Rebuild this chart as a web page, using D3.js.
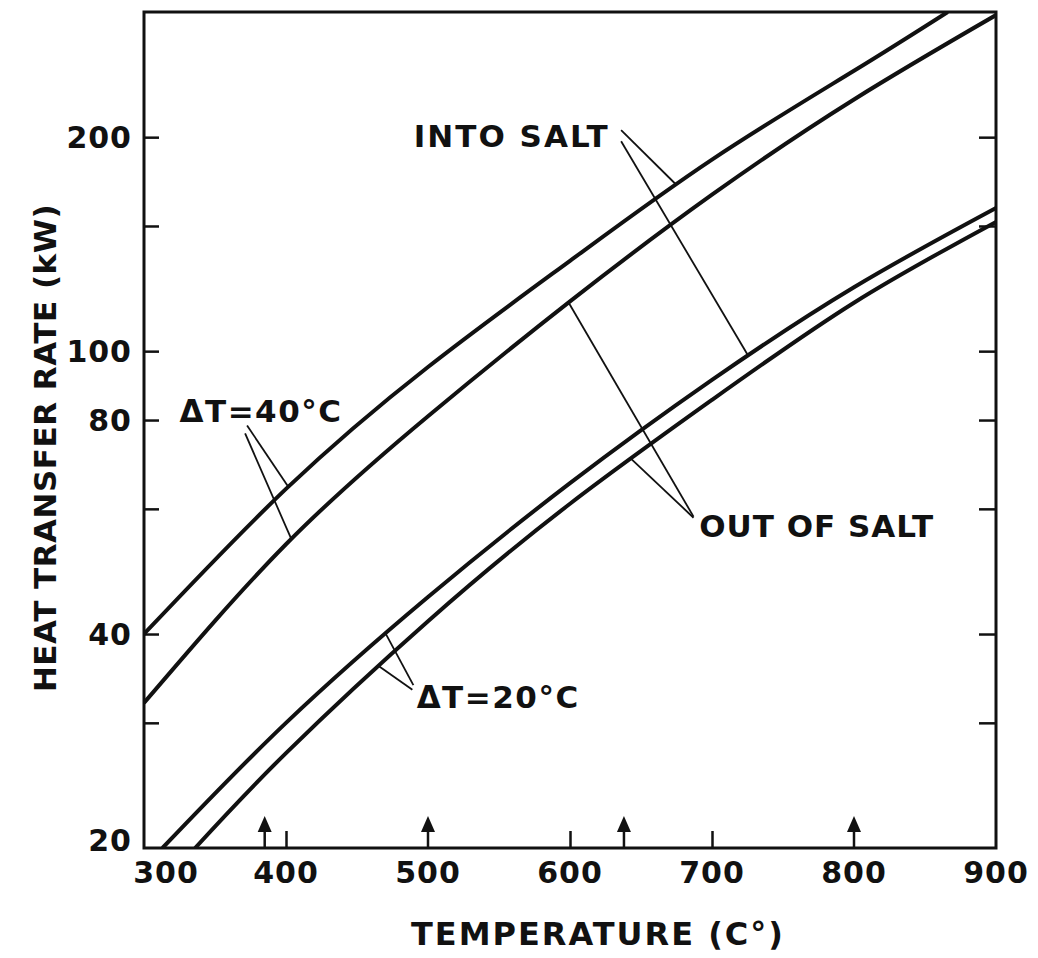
<!DOCTYPE html>
<html>
<head>
<meta charset="utf-8">
<script src="https://cdn.jsdelivr.net/npm/d3@7"></script>
<style>
  body { margin: 0; background: #fff; }
  text { font-family: "DejaVu Sans", sans-serif; font-weight: bold; fill: #111; }
</style>
</head>
<body>
<div id="chart"></div>
<script>
// Heat transfer rate: [temperature (C), rate (kW)]
var into40 = [[300, 40], [400, 64], [500, 95], [600, 134], [700, 186], [800, 248], [866, 300]];
var outOf40 = [[300, 32], [400, 53.5], [500, 81], [600, 117.5], [700, 166], [800, 226], [900, 297]];
var into20 = [[313, 20], [400, 30], [500, 45.1], [600, 65.2], [700, 91.1], [800, 123], [900, 159]];
var outOf20 = [[336, 20], [400, 27.2], [500, 41.7], [600, 61], [700, 85.4], [800, 117], [900, 152]];

var xTicks = [300, 400, 500, 600, 700, 800, 900];
var xMinorTicks = [400, 600, 700];
var yLabels = [20, 40, 80, 100, 200];
var yMinorTicks = [30, 40, 60, 80, 100, 150, 200];
var arrowTemps = [385, 500, 638, 800];

// Labels and their leader lines, in data units
var labels = [
  {text: "INTO SALT", t: 490, kw: 194, spacing: 2},
  {text: "ΔT=40°C", t: 325, kw: 79.5, spacing: 1.5},
  {text: "ΔT=20°C", t: 492, kw: 31.5, spacing: 1.5},
  {text: "OUT OF SALT", t: 691, kw: 54.8, spacing: 1}
];
var leaders = [
  {from: [636, 204.6], curve: "into40", t: 674.5},
  {from: [636, 197.4], curve: "into20", t: 725.3},
  {from: [372.6, 78.6], curve: "into40", t: 401.6},
  {from: [371.2, 76.6], curve: "outOf40", t: 403.7},
  {from: [489.7, 33.9], curve: "into20", t: 470},
  {from: [489, 33.4], curve: "outOf20", t: 465},
  {from: [687, 58.5], curve: "outOf40", t: 599},
  {from: [687, 58.3], curve: "outOf20", t: 642.7}
];

var svgWidth = 1038;
var svgHeight = 958;
var margin = {top: 12, right: 42, bottom: 110, left: 144};
var width = svgWidth - margin.left - margin.right;
var height = svgHeight - margin.top - margin.bottom;

var svg = d3.select("#chart")
  .append("svg")
  .attr("width", svgWidth)
  .attr("height", svgHeight);

var chartGroup = svg.append("g")
  .attr("transform", `translate(${margin.left}, ${margin.top})`);

// Scales
var xScale = d3.scaleLinear()
  .domain([300, 900])
  .range([0, width]);

var yScale = d3.scaleLog()
  .domain([20, 300])
  .range([height, 0]);

// Clip the curves to the frame
chartGroup.append("clipPath")
  .attr("id", "plot-clip")
  .append("rect")
  .attr("width", width)
  .attr("height", height);

// Frame
chartGroup.append("rect")
  .attr("width", width)
  .attr("height", height)
  .attr("fill", "none")
  .attr("stroke", "#111")
  .attr("stroke-width", 3);

// Inward ticks on both sides
var leftAxis = d3.axisRight(yScale).tickValues(yMinorTicks).tickSize(15).tickFormat("");
var rightAxis = d3.axisLeft(yScale).tickValues(yMinorTicks).tickSize(17).tickFormat("");
var bottomAxis = d3.axisTop(xScale).tickValues(xMinorTicks).tickSize(17).tickFormat("");

chartGroup.append("g").call(leftAxis);
chartGroup.append("g").attr("transform", `translate(${width}, 0)`).call(rightAxis);
chartGroup.append("g").attr("transform", `translate(0, ${height})`).call(bottomAxis);
chartGroup.selectAll(".domain").remove();
chartGroup.selectAll(".tick line").attr("stroke", "#111").attr("stroke-width", 2.5);

// Tick labels
chartGroup.selectAll("text.ylab")
  .data(yLabels)
  .enter()
  .append("text")
  .attr("class", "ylab")
  .attr("x", -12)
  .attr("y", d => yScale(d) - (d === 20 ? 8 : 0))
  .attr("dy", "0.36em")
  .attr("text-anchor", "end")
  .attr("font-size", 30)
  .attr("letter-spacing", 1)
  .text(d => d);

chartGroup.selectAll("text.xlab")
  .data(xTicks)
  .enter()
  .append("text")
  .attr("class", "xlab")
  .attr("x", d => xScale(d) + (d === 300 ? 22 : 0))
  .attr("y", height + 35)
  .attr("text-anchor", "middle")
  .attr("font-size", 30)
  .attr("letter-spacing", 1)
  .text(d => d);

// Arrows along the bottom
var arrows = chartGroup.selectAll("g.arrow")
  .data(arrowTemps)
  .enter()
  .append("g")
  .attr("class", "arrow")
  .attr("transform", d => `translate(${xScale(d)}, ${height})`);

arrows.append("line")
  .attr("y1", 0)
  .attr("y2", -20)
  .attr("stroke", "#111")
  .attr("stroke-width", 2.5);

arrows.append("path")
  .attr("d", "M0,-32 L-7,-16 L7,-16 Z")
  .attr("fill", "#111");

// Curves
var line = d3.line()
  .x(d => xScale(d[0]))
  .y(d => yScale(d[1]))
  .curve(d3.curveNatural);

var curves = {into40: into40, outOf40: outOf40, into20: into20, outOf20: outOf20};
var curvePaths = {};

Object.keys(curves).forEach(function(key) {
  curvePaths[key] = chartGroup.append("path")
    .datum(curves[key])
    .attr("clip-path", "url(#plot-clip)")
    .attr("fill", "none")
    .attr("stroke", "#111")
    .attr("stroke-width", 4)
    .attr("d", line);
});

// find the y of a drawn curve at a given pixel x
function curveYAt(pathSel, px) {
  var node = pathSel.node();
  var lo = 0, hi = node.getTotalLength();
  for (var i = 0; i < 40; i++) {
    var mid = (lo + hi) / 2;
    if (node.getPointAtLength(mid).x < px) lo = mid; else hi = mid;
  }
  return node.getPointAtLength((lo + hi) / 2).y;
}

// Leader lines
chartGroup.selectAll("line.leader")
  .data(leaders)
  .enter()
  .append("line")
  .attr("class", "leader")
  .attr("x1", d => xScale(d.from[0]))
  .attr("y1", d => yScale(d.from[1]))
  .attr("x2", d => xScale(d.t))
  .attr("y2", d => curveYAt(curvePaths[d.curve], xScale(d.t)))
  .attr("stroke", "#111")
  .attr("stroke-width", 1.8);

// Curve labels
chartGroup.selectAll("text.note")
  .data(labels)
  .enter()
  .append("text")
  .attr("class", "note")
  .attr("x", d => xScale(d.t))
  .attr("y", d => yScale(d.kw))
  .attr("font-size", 31)
  .attr("letter-spacing", d => d.spacing)
  .text(d => d.text);

// Axis titles
chartGroup.append("text")
  .attr("x", width / 2 + 28)
  .attr("y", height + 97)
  .attr("text-anchor", "middle")
  .attr("font-size", 32)
  .attr("letter-spacing", 2)
  .text("TEMPERATURE (C°)");

chartGroup.append("text")
  .attr("transform", "rotate(-90)")
  .attr("x", 0 - (448 - margin.top))
  .attr("y", 0 - margin.left + 56)
  .attr("text-anchor", "middle")
  .attr("font-size", 31)
  .attr("letter-spacing", 0.5)
  .text("HEAT TRANSFER RATE (kW)");
</script>
</body>
</html>
